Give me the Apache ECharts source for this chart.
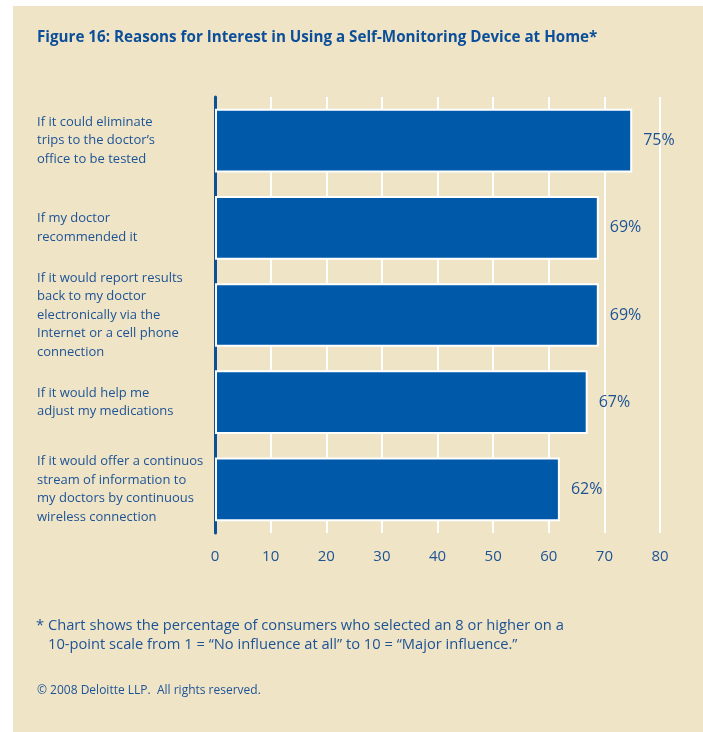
<!DOCTYPE html>
<html>
<head>
<meta charset="utf-8">
<script src="https://cdn.jsdelivr.net/npm/echarts@6/dist/echarts.min.js"></script>
<style>
  html, body { margin: 0; padding: 0; background: #ffffff; }
  #bg { position: absolute; left: 13px; top: 6px; width: 690px; height: 726px; background: #f0e4c6; }
  #chart { position: absolute; left: 0; top: 0; width: 703px; height: 732px; }
</style>
</head>
<body>
<div id="bg"></div>
<div id="chart"></div>
<script>
const categories = [
  "If it could eliminate\ntrips to the doctor’s\noffice to be tested",
  "If my doctor\nrecommended it",
  "If it would report results\nback to my doctor\nelectronically via the\nInternet or a cell phone\nconnection",
  "If it would help me\nadjust my medications",
  "If it would offer a continuos\nstream of information to\nmy doctors by continuous\nwireless connection"
];
const values = [75, 69, 69, 67, 62];
const xTicks = [0, 10, 20, 30, 40, 50, 60, 70, 80];

const BLUE_TEXT = '#1c5396';
const FONT = '"Open Sans", "DejaVu Sans", sans-serif';

const chart = echarts.init(document.getElementById('chart'), null, { renderer: 'canvas' });
chart.setOption({
  backgroundColor: 'transparent',
  animation: false,
  title: {
    text: 'Figure 16: Reasons for Interest in Using a Self-Monitoring Device at Home*',
    left: 32, top: 25,
    textStyle: { color: '#0b4e9a', fontSize: 15.2, fontWeight: 'bold', fontFamily: FONT }
  },
  grid: { left: 215, right: 43, top: 97, bottom: 199, containLabel: false },
  xAxis: {
    type: 'value', min: xTicks[0], max: xTicks[xTicks.length - 1], interval: 10,
    axisLine: { show: false },
    axisTick: { show: false },
    axisLabel: { color: BLUE_TEXT, fontSize: 15, fontFamily: FONT, margin: 16,
      formatter: v => xTicks.includes(v) ? String(v) : '' },
    splitLine: { show: true, lineStyle: { color: '#ffffff', width: 2 } }
  },
  yAxis: {
    type: 'category', data: categories, inverse: true,
    axisLine: { show: true, lineStyle: { color: '#0f4f95', width: 3 } },
    axisTick: { show: false },
    axisLabel: { align: 'left', margin: 178, color: BLUE_TEXT, fontSize: 13, lineHeight: 18.5, fontFamily: FONT }
  },
  series: [{
    type: 'bar', data: values, barCategoryGap: '27%',
    itemStyle: { color: '#0059a9', borderColor: '#ffffff', borderWidth: 2 },
    label: { show: true, position: 'right', distance: 11, formatter: '{c}%',
      color: BLUE_TEXT, fontSize: 16, fontFamily: FONT }
  }],
  graphic: [
    { type: 'text', left: 36, top: 618, style: { text: '* Chart shows the percentage of consumers who selected an 8 or higher on a', fill: BLUE_TEXT, fontSize: 14.7, fontFamily: FONT } },
    { type: 'text', left: 48, top: 637, style: { text: '10-point scale from 1 = “No influence at all” to 10 = “Major influence.”', fill: BLUE_TEXT, fontSize: 14.7, fontFamily: FONT } },
    { type: 'text', left: 37, top: 685, style: { text: '© 2008 Deloitte LLP.  All rights reserved.', fill: BLUE_TEXT, fontSize: 12, fontFamily: FONT } }
  ]
});
</script>
</body>
</html>
